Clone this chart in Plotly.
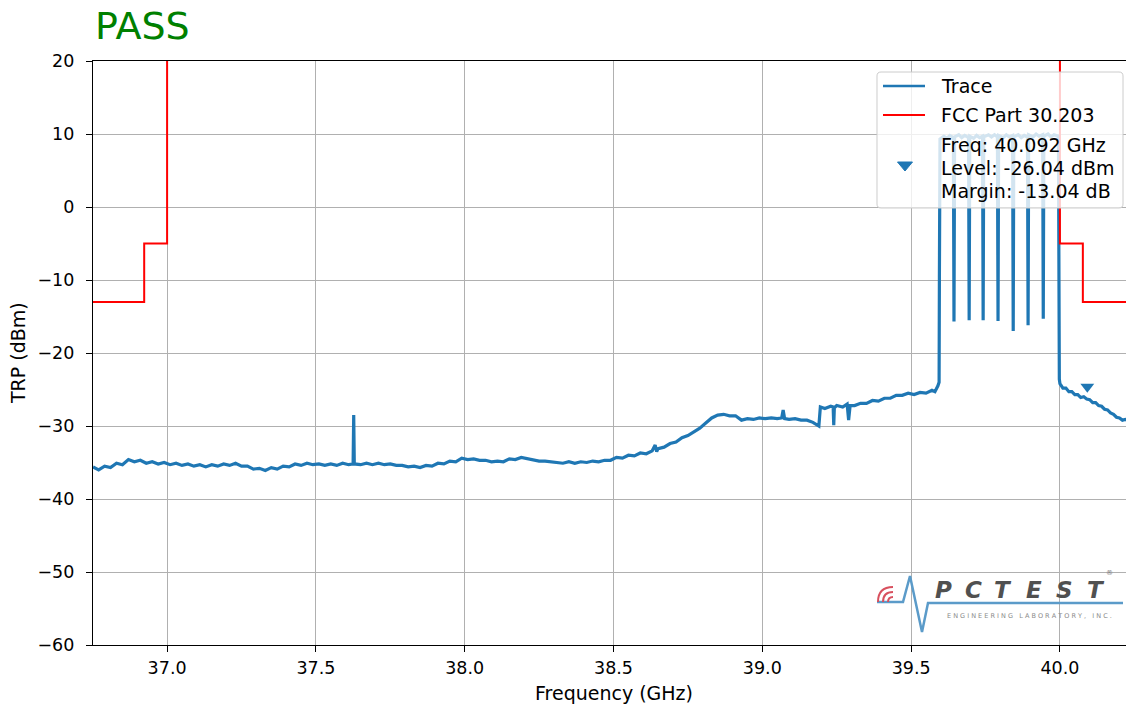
import plotly.graph_objects as go

# ---- measured spectrum (GHz, dBm) ----
TRACE_FREQ_GHZ = [
    36.751, 36.77, 36.79, 36.81, 36.83, 36.85, 36.87, 36.89, 36.91, 36.93,
    36.95, 36.97, 36.99, 37.01, 37.03, 37.05, 37.07, 37.09, 37.11, 37.13,
    37.15, 37.17, 37.19, 37.21, 37.23, 37.25, 37.27, 37.29, 37.31, 37.33,
    37.35, 37.37, 37.39, 37.41, 37.43, 37.45, 37.47, 37.49, 37.51, 37.53,
    37.55, 37.57, 37.59, 37.61, 37.625, 37.627, 37.629, 37.65, 37.67, 37.69, 37.71, 37.73,
    37.75, 37.77, 37.79, 37.81, 37.83, 37.85, 37.87, 37.89, 37.91, 37.93,
    37.95, 37.97, 37.99, 38.01, 38.03, 38.05, 38.07, 38.09, 38.11, 38.13,
    38.15, 38.17, 38.19, 38.21, 38.23, 38.25, 38.27, 38.29, 38.31, 38.33,
    38.35, 38.37, 38.39, 38.41, 38.43, 38.45, 38.47, 38.49, 38.51, 38.53,
    38.55, 38.57, 38.59, 38.61, 38.63, 38.64, 38.645, 38.65, 38.67, 38.69, 38.71, 38.73,
    38.75, 38.77, 38.79, 38.81, 38.83, 38.85, 38.87, 38.89, 38.91, 38.93,
    38.95, 38.97, 38.99, 39.01, 39.03, 39.05, 39.065, 39.07, 39.075, 39.09, 39.11, 39.13,
    39.15, 39.17, 39.19, 39.195, 39.21, 39.23, 39.238, 39.24, 39.242, 39.25, 39.27,
    39.285, 39.29, 39.295, 39.31, 39.33,
    39.35, 39.37, 39.39, 39.41, 39.43, 39.45, 39.47, 39.49, 39.51, 39.53, 39.55,
    39.57, 39.58, 39.59, 39.594,
    39.595, 39.597, 39.61, 39.62, 39.63, 39.642, 39.644, 39.646, 39.66, 39.67,
    39.68, 39.693, 39.695, 39.697, 39.71, 39.72, 39.73, 39.740, 39.742, 39.744,
    39.76, 39.77, 39.78, 39.790, 39.792, 39.794, 39.81, 39.82, 39.83, 39.841,
    39.843, 39.845, 39.86, 39.87, 39.88, 39.891, 39.893, 39.895, 39.91, 39.92,
    39.93, 39.942, 39.944, 39.946, 39.96, 39.97, 39.98, 39.995, 39.998,
    40.0, 40.01, 40.02, 40.03, 40.04, 40.05, 40.06, 40.07, 40.08, 40.09,
    40.10, 40.11, 40.12, 40.13, 40.14, 40.15, 40.16, 40.17, 40.18, 40.19,
    40.20, 40.21, 40.22, 40.23, 40.25,
]
TRACE_LEVEL_DBM = [
    -35.6, -36.0, -35.5, -35.7, -35.1, -35.3, -34.6, -34.9, -34.7, -35.1,
    -34.9, -35.2, -35.0, -35.3, -35.1, -35.4, -35.2, -35.5, -35.3, -35.6,
    -35.3, -35.5, -35.2, -35.4, -35.1, -35.5, -35.5, -35.9, -35.8, -36.1,
    -35.7, -35.9, -35.5, -35.6, -35.2, -35.4, -35.1, -35.3, -35.2, -35.4,
    -35.2, -35.4, -35.1, -35.3, -35.2, -28.5, -35.2, -35.3, -35.1, -35.3, -35.1, -35.3,
    -35.2, -35.4, -35.4, -35.6, -35.5, -35.7, -35.4, -35.5, -35.1, -35.2,
    -34.8, -34.9, -34.4, -34.6, -34.5, -34.7, -34.7, -34.9, -34.8, -34.9,
    -34.5, -34.6, -34.3, -34.5, -34.6, -34.8, -34.8, -34.9, -34.9, -35.1,
    -34.9, -35.1, -34.9, -35.0, -34.8, -34.9, -34.7, -34.7, -34.3, -34.4,
    -34.0, -34.1, -33.7, -33.8, -33.4, -32.6, -33.5, -33.1, -32.9, -32.4, -32.2, -31.6,
    -31.3, -30.8, -30.3, -29.6, -28.9, -28.5, -28.4, -28.6, -28.6, -29.2,
    -29.0, -29.1, -28.9, -29.0, -28.9, -29.0, -28.9, -27.8, -29.0, -29.1, -29.0, -29.2,
    -29.2, -29.5, -30.0, -27.4, -27.6, -27.3, -27.4, -29.9, -27.5, -27.2, -27.4,
    -27.0, -29.2, -27.2, -27.2, -26.9,
    -26.9, -26.5, -26.6, -26.2, -26.2, -25.8, -25.8, -25.5, -25.7, -25.4, -25.5,
    -25.1, -25.3, -24.5, -24.0,
    -9.6, 9.3, 9.7, 9.4, 9.8, 9.5, -15.7, 9.6, 9.9, 9.5,
    9.8, 9.5, -15.5, 9.7, 9.4, 9.8, 9.5, 9.7, -15.5, 9.6,
    9.9, 9.6, 9.9, 9.6, -15.6, 9.8, 9.5, 9.9, 9.6, 9.8,
    -17.0, 9.6, 9.9, 9.5, 9.8, 9.6, -16.2, 9.9, 9.6, 10.0,
    9.7, 9.9, -15.3, 9.7, 10.0, 9.6, 9.9, 9.7, -23.6,
    -24.2, -24.8, -24.8, -25.3, -25.3, -25.7, -25.7, -26.1, -26.0, -26.3,
    -26.4, -26.8, -26.8, -27.2, -27.3, -27.7, -27.8, -28.2, -28.4, -28.8,
    -28.9, -29.2, -29.1, -29.3, -29.2,
]

# ---- FCC Part 30.203 emission mask (no limit inside 37-40 GHz) ----
LIMIT_FREQ_GHZ = [36.751, 36.923, 36.923, 37.0, 37.0, None, 40.0, 40.0, 40.077, 40.077, 40.25]
LIMIT_LEVEL_DBM = [-13, -13, -5, -5, 20, None, 20, -5, -5, -13, -13]

# ---- worst-case marker ----
MARKER_FREQ_GHZ = 40.092
MARKER_LEVEL_DBM = -26.04
MARKER_LIMIT_DBM = -13.0
MARKER_LIFT_DB = 1.4  # symbol drawn just above the trace point

X_RANGE = [36.751, 40.222]
Y_RANGE = [-60, 20]
X_TICKS = [37.0, 37.5, 38.0, 38.5, 39.0, 39.5, 40.0]
Y_TICKS = [-60, -50, -40, -30, -20, -10, 0, 10, 20]

BLUE = "#1f77b4"
RED = "#ff0000"
FONT = "DejaVu Sans"

W, H = 1126, 709
ML, MR, MT, MB = 93, 0, 61, 64
PW, PH = W - ML - MR, H - MT - MB


def px(x, y):
    """Convert a pixel position on the page to paper coordinates."""
    return (x - ML) / PW, (H - MB - y) / PH


def path_from(points, close=False):
    parts = []
    for i, (x, y) in enumerate(points):
        u, v = px(x, y)
        parts.append(("M" if i == 0 else "L") + f"{u:.5f},{v:.5f}")
    return " ".join(parts) + (" Z" if close else "")


def rounded_box(x0, y0, x1, y1, r):
    pts = {
        "a": px(x0 + r, y0), "b": px(x1 - r, y0), "c": px(x1, y0), "d": px(x1, y0 + r),
        "e": px(x1, y1 - r), "f": px(x1, y1), "g": px(x1 - r, y1), "h": px(x0 + r, y1),
        "i": px(x0, y1), "j": px(x0, y1 - r), "k": px(x0, y0 + r), "l": px(x0, y0),
    }
    f = lambda k: f"{pts[k][0]:.5f},{pts[k][1]:.5f}"
    return (f"M{f('a')} L{f('b')} Q{f('c')} {f('d')} L{f('e')} Q{f('f')} {f('g')} "
            f"L{f('h')} Q{f('i')} {f('j')} L{f('k')} Q{f('l')} {f('a')} Z")


margin_db = MARKER_LEVEL_DBM - MARKER_LIMIT_DBM
marker_lines = [
    f"Freq: {MARKER_FREQ_GHZ:.3f} GHz",
    f"Level: {MARKER_LEVEL_DBM:.2f} dBm",
    f"Margin: {margin_db:.2f} dB",
]

fig = go.Figure()
fig.add_trace(go.Scatter(
    x=TRACE_FREQ_GHZ, y=TRACE_LEVEL_DBM, mode="lines", name="Trace",
    line=dict(color=BLUE, width=3.2), showlegend=False,
))
fig.add_trace(go.Scatter(
    x=LIMIT_FREQ_GHZ, y=LIMIT_LEVEL_DBM, mode="lines", name="FCC Part 30.203",
    line=dict(color=RED, width=2), connectgaps=False, showlegend=False,
))
fig.add_trace(go.Scatter(
    x=[MARKER_FREQ_GHZ], y=[MARKER_LEVEL_DBM + MARKER_LIFT_DB], mode="markers",
    name="<br>".join(marker_lines), showlegend=False,
    marker=dict(symbol="triangle-down", size=12, color=BLUE),
))

shapes = []
annotations = []

# ---- legend box (top right) ----
shapes.append(dict(
    type="path", xref="paper", yref="paper", path=rounded_box(877, 72, 1123, 208, 4),
    fillcolor="rgba(255,255,255,0.8)", line=dict(color="#cccccc", width=1),
))
legend_rows = [("Trace", BLUE, 2.6, 86), ("FCC Part 30.203", RED, 2, 115)]
for label, color, lw, ypx in legend_rows:
    shapes.append(dict(type="path", xref="paper", yref="paper",
                       path=path_from([(883, ypx), (925, ypx)]),
                       line=dict(color=color, width=lw)))
    u, v = px(939, ypx)
    annotations.append(dict(text=label, xref="paper", yref="paper", x=u, y=v,
                            xanchor="left", yanchor="middle", showarrow=False,
                            font=dict(family=FONT, size=19, color="#000000")))
shapes.append(dict(
    type="path", xref="paper", yref="paper",
    path=path_from([(897.5, 162), (912.5, 162), (905, 171)], close=True),
    fillcolor=BLUE, line=dict(color=BLUE, width=1),
))
for line_text, ypx in zip(marker_lines, [145, 168, 191]):
    u, v = px(939, ypx)
    annotations.append(dict(text=line_text, xref="paper", yref="paper", x=u, y=v,
                            xanchor="left", yanchor="middle", showarrow=False,
                            font=dict(family=FONT, size=19, color="#000000")))

# ---- lab logo (bottom right) ----
shapes.append(dict(
    type="path", xref="paper", yref="paper",
    path=path_from([(877, 602), (903, 602), (910, 576), (922, 632), (928, 603), (1123, 603)]),
    line=dict(color="#5b9bc9", width=2.5),
))
cx, cy = 893, 602
for r in (5, 10, 15):
    x0, y0 = px(cx - r, cy)
    xc, yc = px(cx - r, cy - r)
    x1, y1 = px(cx, cy - r)
    shapes.append(dict(
        type="path", xref="paper", yref="paper",
        path=f"M{x0:.5f},{y0:.5f} Q{xc:.5f},{yc:.5f} {x1:.5f},{y1:.5f}",
        line=dict(color="#d8505e", width=2),
    ))

for letter, xc_px in zip("PCTEST", [943, 973, 1003, 1034, 1064, 1096]):
    u, v = px(xc_px, 590)
    annotations.append(dict(
        text=letter, xref="paper", yref="paper", x=u, y=v,
        xanchor="center", yanchor="middle", showarrow=False,
        font=dict(family=FONT, size=23, color="#505050", weight="bold", style="italic"),
    ))
u, v = px(1115, 579)
annotations.append(dict(text="®", xref="paper", yref="paper", x=u, y=v,
                        showarrow=False, font=dict(family=FONT, size=7, color="#777777")))
u, v = px(1029, 616)
annotations.append(dict(
    text="E N G I N E E R I N G   L A B O R A T O R Y ,   I N C .",
    xref="paper", yref="paper", x=u, y=v, xanchor="center", yanchor="middle",
    showarrow=False, font=dict(family=FONT, size=6.5, color="#8a8a8a"),
))

# ---- titles ----
u, v = px(93, 26)
annotations.append(dict(
    text="PASS", xref="paper", yref="paper", x=u, y=v, xanchor="left", yanchor="middle",
    showarrow=False, font=dict(family=FONT, size=38, color="#008000"),
))
u, v = px(614, 693)
annotations.append(dict(
    text="Frequency (GHz)", xref="paper", yref="paper", x=u, y=v,
    xanchor="center", yanchor="middle", showarrow=False,
    font=dict(family=FONT, size=19, color="#000000"),
))
u, v = px(18, 353)
annotations.append(dict(
    text="TRP (dBm)", xref="paper", yref="paper", x=u, y=v, textangle=-90,
    xanchor="center", yanchor="middle", showarrow=False,
    font=dict(family=FONT, size=19, color="#000000"),
))

axis_common = dict(
    showgrid=True, gridcolor="#b0b0b0", gridwidth=1.3,
    showline=True, linecolor="#000000", linewidth=1.3,
    ticks="outside", ticklen=6, tickwidth=1.3, tickcolor="#000000",
    zeroline=False,
    tickfont=dict(family=FONT, size=17.5, color="#000000"),
)

fig.update_layout(
    width=W, height=H,
    margin=dict(l=ML, r=MR, t=MT, b=MB),
    paper_bgcolor="white", plot_bgcolor="white",
    font=dict(family=FONT, color="#000000"),
    xaxis=dict(range=X_RANGE, tickvals=X_TICKS, tickformat=".1f", mirror=True,
               ticklabelstandoff=1, **axis_common),
    yaxis=dict(range=Y_RANGE, tickvals=Y_TICKS, ticklabelstandoff=8, **axis_common),
    showlegend=False,
    shapes=shapes,
    annotations=annotations,
)

fig.write_html("out.html")
